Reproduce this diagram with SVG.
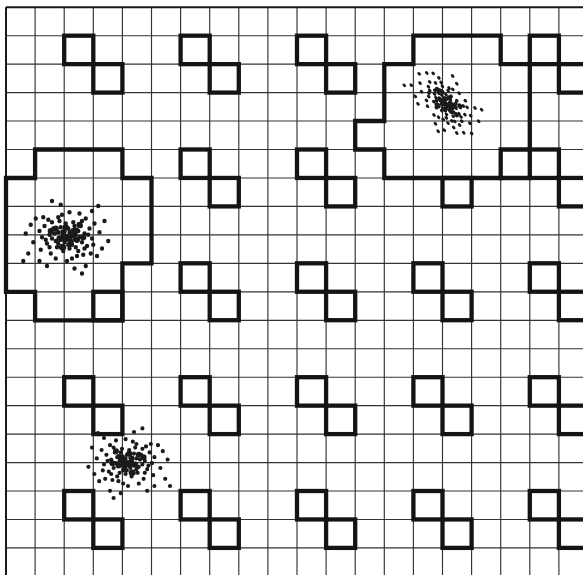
<svg xmlns="http://www.w3.org/2000/svg" xmlns:xlink="http://www.w3.org/1999/xlink" width="583" height="575" viewBox="0 0 583 575">
<style>
.grid{fill:none;stroke:#333;stroke-width:1.15}
.border{fill:none;stroke:#1a1a1a;stroke-width:2}
.thick{fill:none;stroke:#141414;stroke-width:4.3;stroke-linejoin:miter;stroke-linecap:square}
.dots{fill:none;stroke:#1a1a1a;stroke-linecap:round;stroke-width:3.5}
.blobs{fill:none;stroke:#1a1a1a;stroke-linecap:round;stroke-width:5}
</style>
<defs>
<g id="zshape" class="thick">
<rect x="0" y="0" width="29.1" height="28.45"/>
<rect x="29.1" y="28.45" width="29.1" height="28.45"/>
</g>
<g id="cluster">
<path class="dots" d="M0 0h0M3 -2h0M-4 1h0M6 3h0M-2 5h0M1 -6h0M-7 -3h0M8 -5h0M4 7h0M-5 -7h0M10 1h0M-9 4h0M2 10h0M-1 -10h0M7 9h0M-8 9h0M11 -8h0M-11 -6h0M5 -11h0M-3 12h0M12 5h0M-12 2h0M9 12h0M-6 -12h0M14 -2h0M-14 -1h0M0 3h0M2 -3h0M-3 -1h0M5 0h0M-5 3h0M3 4h0M-2 -4h0M7 -1h0M-7 6h0M1 7h0M6 -8h0M-4 8h0M9 -4h0M-10 -2h0M16 8h0M-16 6h0M18 -6h0M-18 -8h0M13 15h0M-13 14h0M15 -14h0M-15 -13h0M20 2h0M-20 1h0M4 18h0M-4 -17h0M10 -18h0M-9 18h0M22 -10h0M-21 11h0M19 14h0M-19 -15h0M0 20h0M2 -19h0M17 -1h0M-17 3h0M12 -12h0M-12 -11h0M8 16h0M-7 -15h0M14 10h0M-14 9h0M21 7h0M-22 -4h0M26 -3h0M-27 5h0M24 16h0M-25 -14h0M28 10h0M-29 -9h0M6 26h0M-5 -25h0M15 24h0M-16 24h0M20 -20h0M-22 20h0M30 -12h0M-31 14h0M-33 -2h0M33 4h0M12 30h0M-12 -28h0M-35 20h0M25 -24h0"/>
<path class="blobs" d="M1 1h1M-3 -3h0M5 -4h1M-6 2h0M3 6h0M-1 -7h0M8 3h0M-9 -6h0M-4 9h1M10 -9h0M13 1h0M-13 -4h0M-2 2h1M4 -1h0"/>
</g>
</defs>

<g id="grid">
<path class="grid" d="M6 7.2V575M35.1 7.2V575M64.2 7.2V575M93.3 7.2V575M122.4 7.2V575M151.5 7.2V575M180.6 7.2V575M209.7 7.2V575M238.8 7.2V575M267.9 7.2V575M297 7.2V575M326.1 7.2V575M355.2 7.2V575M384.3 7.2V575M413.4 7.2V575M442.5 7.2V575M471.6 7.2V575M500.7 7.2V575M529.8 7.2V575M558.9 7.2V575"/>
<path class="grid" d="M6 35.7H583M6 64.1H583M6 92.6H583M6 121H583M6 149.5H583M6 178H583M6 206.4H583M6 234.9H583M6 263.3H583M6 291.8H583M6 320.3H583M6 348.7H583M6 377.2H583M6 405.6H583M6 434.1H583M6 462.6H583M6 491H583M6 519.5H583M6 547.9H583"/>
<path class="border" d="M6 7.2H583M6 7.2V575"/>
</g>

<g id="region-left">
<path class="thick" d="M35.1 149.5H122.4V178H151.5V263.3H122.4V320.3H35.1V291.8H6V178H35.1Z"/>
<rect class="thick" x="93.3" y="291.8" width="29.1" height="28.45"/>
</g>

<g id="region-topright">
<path class="thick" d="M413.4 35.7H500.7V64.1H529.8V149.5H500.7V178H384.3V149.5H355.2V121H384.3V64.1H413.4Z"/>
<path class="thick" d="M500.7 178H529.8"/>
<rect class="thick" x="442.5" y="178" width="29.1" height="28.45"/>
</g>

<g id="motifs">
<use id="z-2-1" xlink:href="#zshape" x="64.2" y="35.7"/>
<use id="z-6-1" xlink:href="#zshape" x="180.6" y="35.7"/>
<use id="z-10-1" xlink:href="#zshape" x="297" y="35.7"/>
<use id="z-18-1" xlink:href="#zshape" x="529.8" y="35.7"/>
<use id="z-6-5" xlink:href="#zshape" x="180.6" y="149.5"/>
<use id="z-10-5" xlink:href="#zshape" x="297" y="149.5"/>
<use id="z-18-5" xlink:href="#zshape" x="529.8" y="149.5"/>
<use id="z-6-9" xlink:href="#zshape" x="180.6" y="263.3"/>
<use id="z-10-9" xlink:href="#zshape" x="297" y="263.3"/>
<use id="z-14-9" xlink:href="#zshape" x="413.4" y="263.3"/>
<use id="z-18-9" xlink:href="#zshape" x="529.8" y="263.3"/>
<use id="z-2-13" xlink:href="#zshape" x="64.2" y="377.2"/>
<use id="z-6-13" xlink:href="#zshape" x="180.6" y="377.2"/>
<use id="z-10-13" xlink:href="#zshape" x="297" y="377.2"/>
<use id="z-14-13" xlink:href="#zshape" x="413.4" y="377.2"/>
<use id="z-18-13" xlink:href="#zshape" x="529.8" y="377.2"/>
<use id="z-2-17" xlink:href="#zshape" x="64.2" y="491"/>
<use id="z-6-17" xlink:href="#zshape" x="180.6" y="491"/>
<use id="z-10-17" xlink:href="#zshape" x="297" y="491"/>
<use id="z-14-17" xlink:href="#zshape" x="413.4" y="491"/>
<use id="z-18-17" xlink:href="#zshape" x="529.8" y="491"/>
</g>

<g id="clusters">
<use id="cluster-left" xlink:href="#cluster" transform="translate(67 236) scale(1.25 1.25)"/>
<use id="cluster-topright" xlink:href="#cluster" transform="translate(446 103) rotate(45) scale(1.2 0.85)"/>
<use id="cluster-bottom" xlink:href="#cluster" transform="translate(128 462) scale(-1.2 1.2)"/>
</g>

<g id="connectors"/>
</svg>
